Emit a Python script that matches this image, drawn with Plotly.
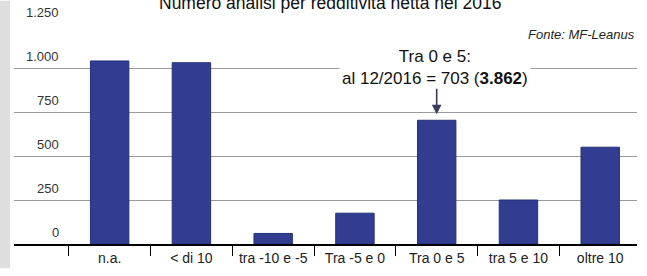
import plotly.graph_objects as go

categories = ["n.a.", "< di 10", "tra -10 e -5", "Tra -5 e 0", "Tra 0 e 5", "tra 5 e 10", "oltre 10"]
values = [1040, 1030, 60, 175, 703, 250, 550]
y_ticks = [0, 250, 500, 750, 1000, 1250]
y_tick_labels = ["0", "250", "500", "750", "1.000", "1.250"]
title_text = "Numero analisi per redditività netta nel 2016"
source_text = "Fonte: MF-Leanus"
callout_text = "Tra 0 e 5:<br>al 12/2016 = 703 (<b>3.862</b>)"
callout_category = "Tra 0 e 5"
callout_value = 703

FONT = "Liberation Sans, Arial, sans-serif"

fig = go.Figure()
fig.add_trace(go.Bar(
    x=categories, y=values, width=0.47,
    marker=dict(color="#323c91", line=dict(color="#25307a", width=1)),
    showlegend=False, hoverinfo="skip",
))

W, H = 647, 276
ml, mr, mt, mb = 14, 10, 24, 25
pw = W - ml - mr
ph = H - mt - mb

fig.update_layout(
    width=W, height=H,
    margin=dict(l=ml, r=mr, t=mt, b=mb, pad=0),
    paper_bgcolor="white", plot_bgcolor="white",
    font=dict(family=FONT, color="#222"),
    bargap=0.5,
    xaxis=dict(
        type="category", range=[-1.17, 6.45],
        showgrid=False, showline=True, linecolor="black", linewidth=2,
        ticks="outside", tickson="boundaries", ticklen=10, tickwidth=1, tickcolor="black",
        tickfont=dict(family=FONT, size=14, color="#222"),
        zeroline=False, fixedrange=True,
    ),
    yaxis=dict(
        range=[0, 1250], tickvals=y_ticks, showticklabels=False,
        showgrid=True, gridcolor="#9a9a9a", gridwidth=1.3,
        zeroline=False, showline=False, fixedrange=True,
    ),
)

# y tick labels placed above gridlines, right aligned
for v, lab in zip(y_ticks, y_tick_labels):
    fig.add_annotation(
        x=(61 - ml) / pw, xref="paper", xanchor="right",
        y=v, yref="y", yanchor="bottom", yshift=2,
        text=lab, showarrow=False,
        font=dict(family=FONT, size=13, color="#333"),
    )

# left gray strip
fig.add_shape(type="rect", xref="paper", yref="paper",
              x0=-ml / pw, x1=(10 - ml) / pw, y0=-mb / ph, y1=1 + mt / ph,
              fillcolor="#dedede", line=dict(width=0), layer="below")

# title (cut off at top, as in the source image)
fig.add_annotation(
    x=(330 - ml) / pw, xref="paper", xanchor="center",
    y=1 + (mt - 2) / ph, yref="paper", yanchor="middle",
    text=title_text, showarrow=False,
    font=dict(family=FONT, size=17.5, color="#111"),
)

# source
fig.add_annotation(
    x=(637 - ml) / pw, xref="paper", xanchor="right",
    y=1 - (35 - mt) / ph, yref="paper", yanchor="middle",
    text="<i>" + source_text + "</i>", showarrow=False,
    font=dict(family=FONT, size=13, color="#222"),
)

# callout text
fig.add_annotation(
    x=callout_category, xref="x", xanchor="center", xshift=-2,
    y=1 - (69 - mt) / ph, yref="paper", yanchor="middle",
    text=callout_text, showarrow=False, bgcolor="white", borderpad=2,
    font=dict(family=FONT, size=17, color="#111"),
)

# arrow
fig.add_annotation(
    x=callout_category, xref="x", y=callout_value, yref="y",
    text="", showarrow=True, arrowhead=2, arrowsize=1.2, arrowwidth=1.6,
    arrowcolor="#3b3d5c", ax=0, ay=-33, standoff=6,
)

fig.write_html(
    "out.html",
    config={"displayModeBar": False},
    post_script="document.body.style.margin='0';document.body.style.overflow='hidden';",
)
